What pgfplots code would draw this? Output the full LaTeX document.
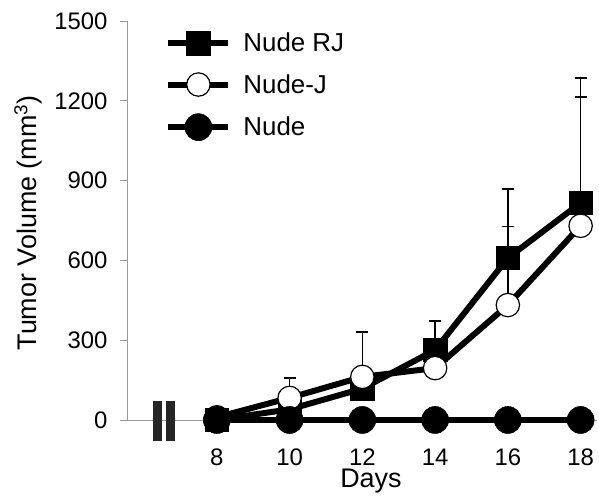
\documentclass[border=0pt]{standalone}
\usepackage{fontspec}
\setmainfont{Liberation Sans}
\usepackage{pgfplots}
\pgfplotsset{compat=1.18}
\begin{document}
\begin{tikzpicture}
\begin{axis}[
  scale only axis,
  width=470bp, height=399bp,
  xmin=5.53, xmax=18.45,
  ymin=0, ymax=1500,
  axis x line=bottom, axis y line=left,
  axis line style={draw=gray!80, line width=0.9bp, -},
  xtick={8,10,12,14,16,18},
  ytick={0,300,600,900,1200,1500},
  x tick style={draw=none},
  y tick style={draw=gray!80, line width=0.9bp},
  tick align=outside,
  major tick length=7bp,
  /pgf/number format/assume math mode=true,
  /pgf/number format/1000 sep={},
  tick label style={font=\fontsize{24}{28}\selectfont, black},
  xticklabel style={anchor=base, yshift=-39bp, inner sep=1bp},
  yticklabel style={xshift=-9bp},
  label style={font=\fontsize{27}{31}\selectfont},
  xlabel={Days},
  ylabel={Tumor Volume (mm\textsuperscript{3})},
  xlabel style={at={(axis description cs:0.519,-0.17)}, anchor=base, inner sep=1bp},
  ylabel style={at={(axis description cs:-0.2106,0.494)}, anchor=center, rotate=0},
  clip=false,
  legend cell align=left,
  legend style={at={(0.075,0.98)}, anchor=north west, draw=none, fill=none,
    font=\fontsize{26}{30}\selectfont, row sep=17bp},
  legend image code/.code={\draw[mark repeat=2,mark phase=2] plot coordinates {(0bp,0bp)(30bp,0bp)(60bp,0bp)}; \path (70bp,0bp);},
]
\coordinate (bbl) at (rel axis cs:-0.2702,-0.193);
\coordinate (btr) at (rel axis cs:1.0043,1.0526);
% axis break
\fill[black!85] (axis cs:6.25,-78) rectangle (axis cs:6.50,73);
\fill[black!85] (axis cs:6.59,-78) rectangle (axis cs:6.85,73);

\addplot[black, line width=6bp, mark=square*, mark size=11.7bp,
  mark options={solid, line width=0.6bp},
  error bars/.cd, y dir=plus, y explicit,
  error bar style={line width=1.5bp},
  error mark options={rotate=90, mark size=6bp, line width=1.5bp}]
  coordinates {
  (8,0) +- (0,0)
  (10,40) +- (0,0)
  (12,118) +- (0,0)
  (14,263) +- (0,109)
  (16,609) +- (0,259)
  (18,816) +- (0,469)
  };
\addlegendentry{Nude RJ}

\addplot[black, line width=6bp, mark=*, mark size=11.7bp,
  mark options={solid, fill=white, line width=1.2bp},
  error bars/.cd, y dir=plus, y explicit,
  error bar style={line width=1.5bp},
  error mark options={rotate=90, mark size=6bp, line width=1.5bp}]
  coordinates {
  (8,10) +- (0,0)
  (10,83) +- (0,75)
  (12,162) +- (0,169)
  (14,195) +- (0,0)
  (16,432) +- (0,295)
  (18,730) +- (0,484)
  };
\addlegendentry{Nude-J}

\addplot[black, line width=6bp, mark=*, mark size=13.5bp,
  mark options={solid, fill=black, line width=0.6bp}]
  coordinates {(8,0) (10,0) (12,0) (14,0) (16,0) (18,0)};
\addlegendentry{Nude}
\end{axis}
\pgfresetboundingbox
\path (bbl) rectangle (btr);
\end{tikzpicture}
\end{document}
